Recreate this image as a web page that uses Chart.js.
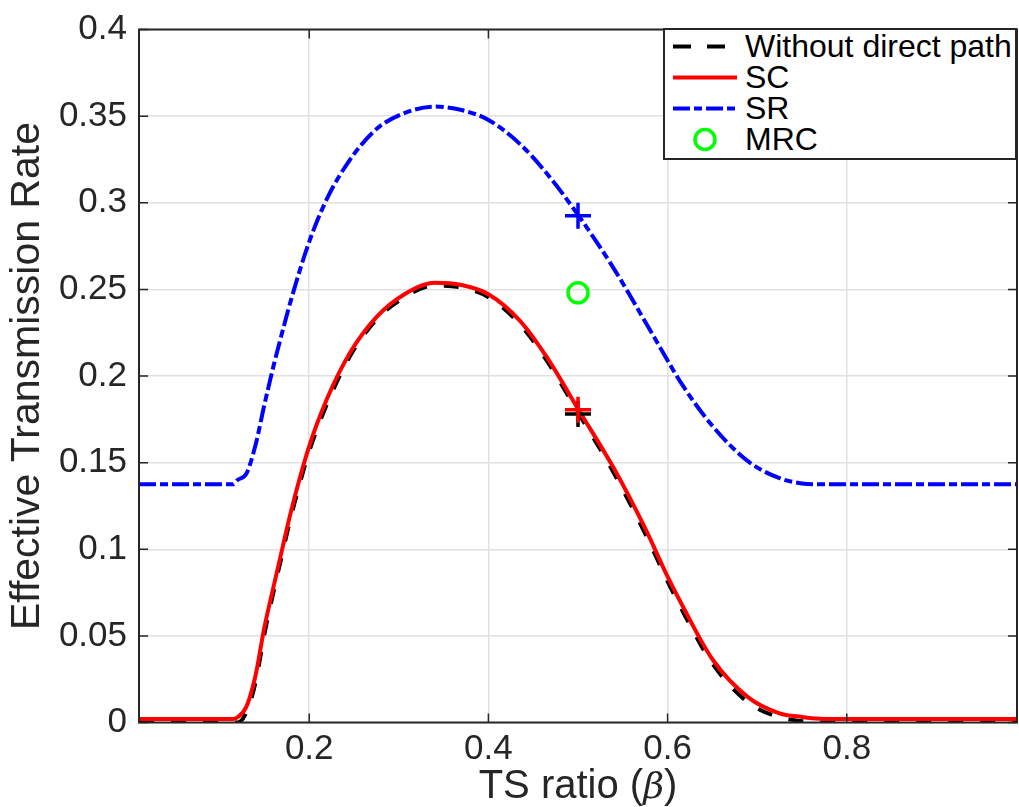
<!DOCTYPE html>
<html>
<head>
<meta charset="utf-8">
<script src="https://cdn.jsdelivr.net/npm/chart.js@4.4.0/dist/chart.umd.min.js"></script>
<style>
  body { margin: 0; background: #fff; }
  #wrap { position: relative; width: 1019px; height: 807px; font-family: "Liberation Sans", Arial, sans-serif; color: #262626; }
  #legend { position: absolute; left: 663px; top: 28px; width: 354px; height: 132px; box-sizing: border-box;
            border: 2px solid #262626; background: #fff; }
  #legend .row { position: absolute; left: 8px; height: 31px; line-height: 31px; font-size: 32px; color: #000; white-space: nowrap; }
  #legend svg { position: absolute; left: 0; top: 0; }
  #legend span { position: absolute; left: 72px; top: 0; }
  #xtitle { position: absolute; left: 139px; top: 764px; width: 878px; height: 40px; line-height: 40px;
            font-size: 40px; text-align: center; }
  #xtitle i { font-family: "DejaVu Serif", "Liberation Serif", serif; font-size: 36px; }
</style>
</head>
<body>
<div id="wrap">
  <canvas id="chart" width="1019" height="807"></canvas>
  <div id="legend"></div>
  <div id="xtitle">TS ratio (<i>β</i>)</div>
</div>
<script>
/*****************************************
 * 1. DATA
 *****************************************/
// TS ratio values where the curves were sampled
const beta = [0.01, 0.05, 0.1, 0.115, 0.12, 0.13, 0.14, 0.15, 0.16, 0.17, 0.18, 0.2, 0.22, 0.245,
              0.275, 0.305, 0.34, 0.37, 0.4, 0.435, 0.465, 0.5, 0.54, 0.575, 0.6, 0.615, 0.65,
              0.69, 0.725, 0.75, 0.77, 0.8, 0.9, 0.99];

// Without direct path (black dashed)
const rateNoDirect = [0, 0, 0, 0, 0, 0.006, 0.023, 0.051, 0.075, 0.0975, 0.1195, 0.1565, 0.184, 0.211,
                      0.2325, 0.245, 0.2522, 0.251, 0.2455, 0.230, 0.209, 0.179, 0.144, 0.109, 0.0815, 0.066, 0.034,
                      0.0115, 0.003, 0.0008, 0, 0, 0, 0];

// SC (red solid)
const rateSC = [0.002, 0.002, 0.002, 0.002, 0.003, 0.0093, 0.027, 0.055, 0.078, 0.1005, 0.1225, 0.1595, 0.187, 0.213,
                0.234, 0.2468, 0.2538, 0.2525, 0.2472, 0.232, 0.211, 0.181, 0.1467, 0.112, 0.0842, 0.069, 0.0365,
                0.0145, 0.0053, 0.0032, 0.0022, 0.002, 0.002, 0.002];

// SR (blue dash-dot)
const rateSR = [0.1375, 0.1375, 0.1375, 0.1375, 0.140, 0.1438, 0.160, 0.1835, 0.2055, 0.2255, 0.2445, 0.2775, 0.3025, 0.3245,
                0.3425, 0.3515, 0.3555, 0.3535, 0.3478, 0.334, 0.317, 0.293, 0.262, 0.2313, 0.209, 0.196, 0.1712,
                0.1507, 0.141, 0.138, 0.1375, 0.1375, 0.1375, 0.1375];

// single operating point at beta = 0.5
const markerBeta = [0.5];
const markerNoDirect = [0.178];
const markerSC = [0.1805];
const markerSR = [0.2925];
const markerMRC = [0.248];

const seriesNames = ['Without direct path', 'SC', 'SR', 'MRC'];

// axis ticks
const xTicks = [0.2, 0.4, 0.6, 0.8];
const xTickLabels = ['0.2', '0.4', '0.6', '0.8'];
const yTicks = [0, 0.05, 0.1, 0.15, 0.2, 0.25, 0.3, 0.35, 0.4];
const yTickLabels = ['0', '0.05', '0.1', '0.15', '0.2', '0.25', '0.3', '0.35', '0.4'];

const toPoints = (xs, ys) => xs.map((x, i) => ({ x: x, y: ys[i] }));

/*****************************************
 * 2. BOX + INWARD TICKS (matlab style)
 *****************************************/
const boxPlugin = {
    id: 'box',
    afterDatasetsDraw(chart) {
        const { ctx, chartArea: a, scales } = chart;
        ctx.save();
        ctx.strokeStyle = '#262626';
        ctx.lineWidth = 2;
        ctx.strokeRect(a.left, a.top, a.right - a.left, a.bottom - a.top);
        ctx.lineWidth = 1.5;
        ctx.beginPath();
        xTicks.forEach(v => {
            const px = scales.x.getPixelForValue(v);
            ctx.moveTo(px, a.bottom); ctx.lineTo(px, a.bottom - 9);
            ctx.moveTo(px, a.top); ctx.lineTo(px, a.top + 9);
        });
        yTicks.forEach(v => {
            const py = scales.y.getPixelForValue(v);
            ctx.moveTo(a.left, py); ctx.lineTo(a.left + 9, py);
            ctx.moveTo(a.right, py); ctx.lineTo(a.right - 9, py);
        });
        ctx.stroke();
        ctx.restore();
    }
};

/*****************************************
 * 3. CHART
 *****************************************/
const tickFont = { family: '"Liberation Sans", Arial, sans-serif', size: 35 };

const chart = new Chart(document.getElementById('chart').getContext('2d'), {
    type: 'line',
    data: {
        datasets: [
            {   // markers drawn on top
                label: '', data: toPoints(markerBeta, markerSR), showLine: false,
                pointStyle: 'cross', pointRadius: 13, pointBorderWidth: 3.5,
                borderColor: '#0000ff', order: 0
            },
            {
                label: '', data: toPoints(markerBeta, markerSC), showLine: false,
                pointStyle: 'cross', pointRadius: 13, pointBorderWidth: 3.5,
                borderColor: '#ff0000', order: 1
            },
            {
                label: '', data: toPoints(markerBeta, markerNoDirect), showLine: false,
                pointStyle: 'cross', pointRadius: 13, pointBorderWidth: 3.5,
                borderColor: '#000000', order: 2
            },
            {
                label: seriesNames[3], data: toPoints(markerBeta, markerMRC), showLine: false,
                pointStyle: 'circle', pointRadius: 10, pointBorderWidth: 3.5,
                borderColor: '#00ff00', backgroundColor: 'rgba(0,0,0,0)', order: 0
            },
            {
                label: seriesNames[0], data: toPoints(beta, rateNoDirect),
                borderColor: '#000000', borderWidth: 4, borderDash: [15, 17],
                pointRadius: 0, cubicInterpolationMode: 'monotone', order: 5
            },
            {
                label: seriesNames[1], data: toPoints(beta, rateSC),
                borderColor: '#ff0000', borderWidth: 4,
                pointRadius: 0, cubicInterpolationMode: 'monotone', order: 4
            },
            {
                label: seriesNames[2], data: toPoints(beta, rateSR),
                borderColor: '#0000ff', borderWidth: 4, borderDash: [17, 4, 8, 4],
                pointRadius: 0, cubicInterpolationMode: 'monotone', order: 6
            }
        ]
    },
    options: {
        responsive: false,
        animation: false,
        events: [],
        layout: { autoPadding: false, padding: { top: 29.5, right: 2, left: 0, bottom: 0 } },
        plugins: {
            legend: { display: false },
            tooltip: { enabled: false }
        },
        scales: {
            x: {
                type: 'linear', min: 0.01, max: 0.99,
                afterBuildTicks: s => { s.ticks = xTicks.map(v => ({ value: v })); },
                afterFit: s => { s.height = 84.5; s.paddingLeft = 0; s.paddingRight = 0; },
                ticks: {
                    font: tickFont, color: '#262626', padding: 6, maxRotation: 0,
                    callback: (v) => xTickLabels[xTicks.indexOf(v)]
                },
                grid: { color: '#e0e0e0', lineWidth: 1.5, drawTicks: false },
                border: { display: false }
            },
            y: {
                type: 'linear', min: 0, max: 0.4,
                afterBuildTicks: s => { s.ticks = yTicks.map(v => ({ value: v })); },
                afterFit: s => { s.width = 139; s.paddingTop = 0; s.paddingBottom = 0; },
                ticks: {
                    font: tickFont, color: '#262626', padding: 12,
                    callback: (v) => yTickLabels[yTicks.indexOf(v)]
                },
                grid: { color: '#e0e0e0', lineWidth: 1.5, drawTicks: false },
                border: { display: false },
                title: {
                    display: true, text: 'Effective Transmission Rate', color: '#262626',
                    font: { family: '"Liberation Sans", Arial, sans-serif', size: 41 },
                    padding: { top: 3, bottom: 0 }
                }
            }
        }
    },
    plugins: [boxPlugin]
});

/*****************************************
 * 4. LEGEND (html, boxed in the corner)
 *****************************************/
const legendEl = document.getElementById('legend');
seriesNames.forEach((name, i) => {
    const ds = chart.data.datasets.find(d => d.label === name);
    const row = document.createElement('div');
    row.className = 'row';
    row.style.top = (1 + i * 31) + 'px';
    let sample;
    if (ds.showLine === false) {
        sample = '<circle cx="32" cy="15.5" r="10" fill="none" stroke="' + ds.borderColor +
                 '" stroke-width="' + ds.pointBorderWidth + '"/>';
    } else {
        const dash = ds.borderDash ? ' stroke-dasharray="' + (name === 'Without direct path' ? '18 16' : ds.borderDash.join(' ')) + '"' : '';
        sample = '<line x1="0" y1="15.5" x2="64" y2="15.5" stroke="' + ds.borderColor +
                 '" stroke-width="' + ds.borderWidth + '"' + dash + '/>';
    }
    row.innerHTML = '<svg width="64" height="31">' + sample + '</svg><span>' + name + '</span>';
    legendEl.appendChild(row);
});
</script>
</body>
</html>
